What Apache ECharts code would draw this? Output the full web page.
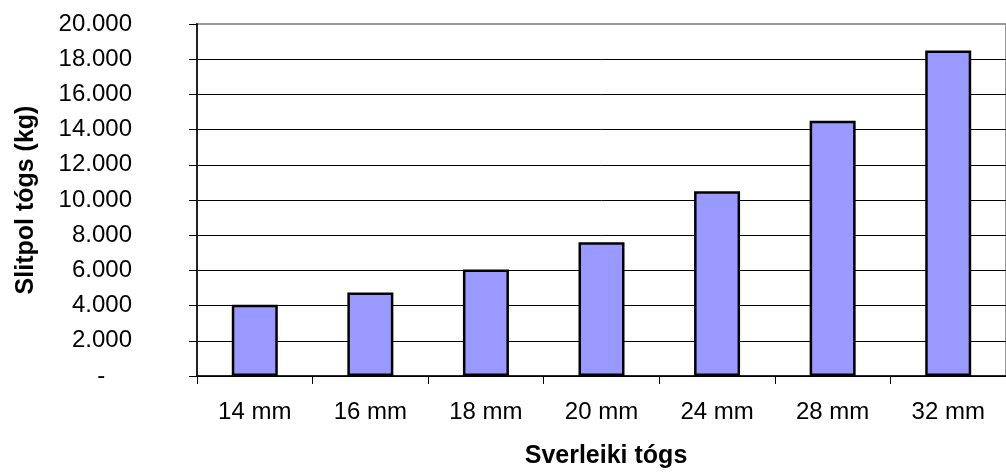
<!DOCTYPE html>
<html>
<head>
<meta charset="utf-8">
<script src="https://cdn.jsdelivr.net/npm/echarts@6/dist/echarts.min.js"></script>
<style>
  html, body { margin: 0; padding: 0; background: #fff; }
  #chart { width: 1006px; height: 474px; }
</style>
</head>
<body>
<div id="chart"></div>
<script>
// Rope diameters and their breaking load (kg)
const categories = ['14 mm', '16 mm', '18 mm', '20 mm', '24 mm', '28 mm', '32 mm'];
const breakingLoad = [4050, 4750, 6050, 7600, 10500, 14500, 18500];
const yAxisTitle = 'Slitpol tógs (kg)';
const xAxisTitle = 'Sverleiki tógs';

const FONT = '"Liberation Sans", Arial, sans-serif';

function formatThousands(v) {
  if (v === 0) return '-    ';
  return String(v).replace(/\B(?=(\d{3})+(?!\d))/g, '.');
}

const chart = echarts.init(document.getElementById('chart'), null, { renderer: 'canvas' });
chart.setOption({
  animation: false,
  grid: {
    left: 197, top: 24, bottom: 94, right: -10,
    show: true, borderColor: '#999', borderWidth: 2, backgroundColor: 'transparent'
  },
  xAxis: {
    type: 'category',
    data: categories,
    name: xAxisTitle,
    nameLocation: 'middle',
    nameGap: 68,
    nameTextStyle: { fontFamily: FONT, fontWeight: 'bold', fontSize: 25, color: '#000', padding: [0, 0, 0, 9] },
    axisLine: { lineStyle: { color: '#000', width: 1.5 } },
    axisTick: { show: true, length: 8, lineStyle: { color: '#000', width: 1 } },
    axisLabel: { fontFamily: FONT, fontSize: 24, color: '#000', margin: 24 }
  },
  yAxis: {
    type: 'value',
    min: 0, max: 20000, interval: 2000,
    name: yAxisTitle,
    nameLocation: 'middle',
    nameGap: 158,
    nameTextStyle: { fontFamily: FONT, fontWeight: 'bold', fontSize: 25, color: '#000' },
    axisLine: { show: true, lineStyle: { color: '#222', width: 2 } },
    axisTick: { show: true, length: 8, lineStyle: { color: '#000', width: 1 } },
    axisLabel: { fontFamily: FONT, fontSize: 24, color: '#000', margin: 65, formatter: formatThousands },
    splitLine: { show: true, showMaxLine: false, lineStyle: { color: '#000', width: 1 } }
  },
  series: [{
    type: 'bar',
    data: breakingLoad,
    barWidth: 46,
    itemStyle: { color: '#9999FF', borderColor: '#000', borderWidth: 2.5 }
  }]
});
</script>
</body>
</html>
